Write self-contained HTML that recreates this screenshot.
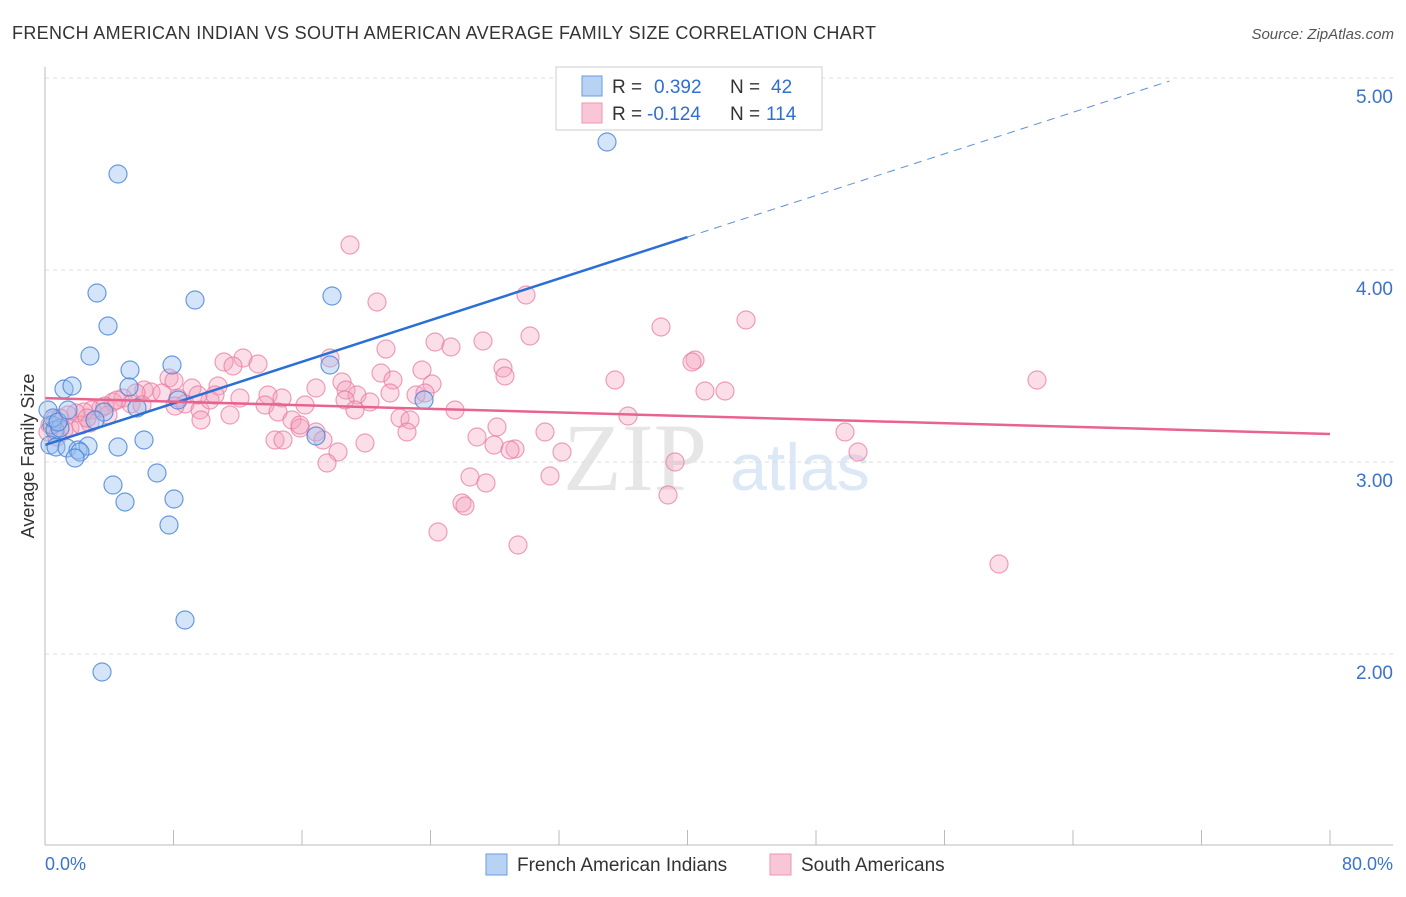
<!DOCTYPE html>
<html><head><meta charset="utf-8"><style>
body{margin:0;background:#fff;font-family:"Liberation Sans",sans-serif}
</style></head><body>
<svg id="c" width="1406" height="892" xmlns="http://www.w3.org/2000/svg">
<text x="12" y="39" font-size="18" fill="#333" textLength="864">FRENCH AMERICAN INDIAN VS SOUTH AMERICAN AVERAGE FAMILY SIZE CORRELATION CHART</text>
<text x="1394" y="39" font-size="15" fill="#555" font-style="italic" text-anchor="end">Source: ZipAtlas.com</text>
<text x="635" y="490" font-size="96" fill="#e6e6e6" font-family="Liberation Serif" text-anchor="middle">ZIP</text>
<text x="800" y="490" font-size="66" fill="#dce8f6" text-anchor="middle">atlas</text>
<g id="grid"></g><g id="pts"></g><g id="lines"></g>
<line x1="45" y1="67" x2="45" y2="845" stroke="#bbb"/>
<line x1="45" y1="845" x2="1393" y2="845" stroke="#bbb"/>
<text x="45" y="870" font-size="18" fill="#3a73c8">0.0%</text>
<text x="1393" y="870" font-size="18" fill="#3a73c8" text-anchor="end">80.0%</text>
<text transform="translate(34,456) rotate(-90)" font-size="18" fill="#333" text-anchor="middle">Average Family Size</text>
<g>
<rect x="556" y="67" width="266" height="63" fill="#fff" stroke="#ccc"/>
<rect x="582" y="76" width="20" height="20" fill="#b8d2f4" stroke="#6a9ae0"/>
<rect x="582" y="103" width="20" height="20" fill="#f8c6d6" stroke="#ec95b1"/>
<text x="612" y="93" font-size="19" fill="#333">R = <tspan x="654" fill="#2f6fd0">0.392</tspan><tspan x="730">N = </tspan><tspan x="771" fill="#2f6fd0">42</tspan></text>
<text x="612" y="120" font-size="19" fill="#333">R = <tspan x="647" fill="#2f6fd0">-0.124</tspan><tspan x="730">N = </tspan><tspan x="766" fill="#2f6fd0">114</tspan></text>
</g>
<g>
<rect x="486" y="854" width="21" height="21" fill="#b8d2f4" stroke="#6a9ae0"/>
<text x="517" y="871" font-size="19" fill="#333">French American Indians</text>
<rect x="770" y="854" width="21" height="21" fill="#f8c6d6" stroke="#ec95b1"/>
<text x="801" y="871" font-size="19" fill="#333">South Americans</text>
</g>
</svg>
<script>
const yTicks=[2,3,4,5];
const yTickLabels=["2.00","3.00","4.00","5.00"];
const xTicks=[0,8,16,24,32,40,48,56,64,72,80];
const bluePx=[[118,174],[607,142],[97,293],[195,300],[332,296],[108,326],[90,356],[130,370],[172,365],[64,389],[72,386],[129,387],[137,408],[178,400],[330,365],[424,400],[104,412],[95,420],[48,410],[52,425],[55,430],[60,428],[50,445],[56,447],[67,448],[78,450],[88,446],[80,452],[118,447],[144,440],[75,458],[113,485],[157,473],[125,502],[174,499],[169,525],[185,620],[102,672],[316,436],[53,418],[58,422],[68,410]];
const pinkPx=[[350,245],[526,295],[377,302],[746,320],[661,327],[530,336],[483,341],[435,342],[451,347],[386,349],[330,358],[224,362],[243,358],[233,366],[258,364],[695,360],[692,362],[503,368],[505,376],[422,370],[381,373],[393,380],[615,380],[1037,380],[169,378],[174,381],[342,382],[432,384],[192,388],[218,386],[705,391],[725,391],[346,390],[316,388],[357,395],[268,395],[144,390],[151,392],[162,393],[136,393],[123,398],[131,404],[113,402],[101,408],[92,410],[84,412],[76,413],[68,415],[60,418],[54,420],[50,425],[48,432],[64,430],[57,437],[70,428],[81,425],[90,423],[108,415],[178,398],[185,404],[200,410],[210,400],[240,398],[265,405],[282,398],[278,412],[305,405],[345,400],[370,402],[390,393],[416,395],[455,410],[425,393],[400,418],[410,420],[292,420],[300,428],[316,432],[323,440],[338,452],[365,443],[407,432],[477,437],[497,427],[545,432],[515,449],[562,452],[494,445],[510,450],[845,432],[858,452],[675,462],[327,463],[470,477],[486,483],[550,476],[462,503],[465,506],[668,495],[438,532],[518,545],[999,564],[628,416],[230,415],[201,420],[105,406],[87,418],[275,440],[283,440],[300,425],[355,410],[198,395],[175,406],[215,395],[117,400],[142,405]];
const blueData=bluePx.map(p=>[(p[0]-45)/16.0625,1+(846-p[1])/192]);
const pinkData=pinkPx.map(p=>[(p[0]-45)/16.0625,1+(846-p[1])/192]);
const blueTrend=[3.089,0.02707];
const pinkTrend=[3.333,-0.00234];
const X=v=>45+v*16.0625, Y=v=>846-(v-1)*192;
const NS="http://www.w3.org/2000/svg";
function mk(t,a,parent){const e=document.createElementNS(NS,t);for(const k in a)e.setAttribute(k,a[k]);parent.appendChild(e);return e;}
const grid=document.getElementById('grid');
yTicks.forEach((t,i)=>{
 const l=mk('line',{x1:45,x2:1393,y1:Y(t),y2:Y(t),stroke:'#ddd','stroke-dasharray':'4,4'},grid);
 
 
 const tx=mk('text',{x:1393,y:Y(t)+25,'font-size':19,fill:'#3a73c8','text-anchor':'end'},grid);
 tx.textContent=yTickLabels[i];
 
 
});
xTicks.forEach(t=>{
 const l=mk('line',{x1:X(t),x2:X(t),y1:830,y2:845,stroke:'#bbb'},grid);
 
 
});
const pts=document.getElementById('pts');
pinkData.forEach(d=>{
 const c=mk('circle',{cx:X(d[0]),cy:Y(d[1]),r:9,fill:'rgba(244,160,188,0.35)',stroke:'rgba(232,120,156,0.7)','stroke-width':1.2},pts);
 
 
});
blueData.forEach(d=>{
 const c=mk('circle',{cx:X(d[0]),cy:Y(d[1]),r:9,fill:'rgba(150,190,240,0.4)',stroke:'rgba(70,130,215,0.8)','stroke-width':1.2},pts);
 
 
});
const lines=document.getElementById('lines');
const bl=mk('line',{x1:X(0),y1:Y(blueTrend[0]),x2:X(40),y2:Y(blueTrend[0]+40*blueTrend[1]),stroke:'#2a6fd6','stroke-width':2.5},lines);


const bd=mk('line',{x1:X(40),y1:Y(blueTrend[0]+40*blueTrend[1]),x2:X(70),y2:Y(blueTrend[0]+70*blueTrend[1]),stroke:'#5b8fd8','stroke-width':1,'stroke-dasharray':'8,6'},lines);


const pl=mk('line',{x1:X(0),y1:Y(pinkTrend[0]),x2:X(80),y2:Y(pinkTrend[0]+80*pinkTrend[1]),stroke:'#e8648f','stroke-width':2.5},lines);


</script>
</body></html>
